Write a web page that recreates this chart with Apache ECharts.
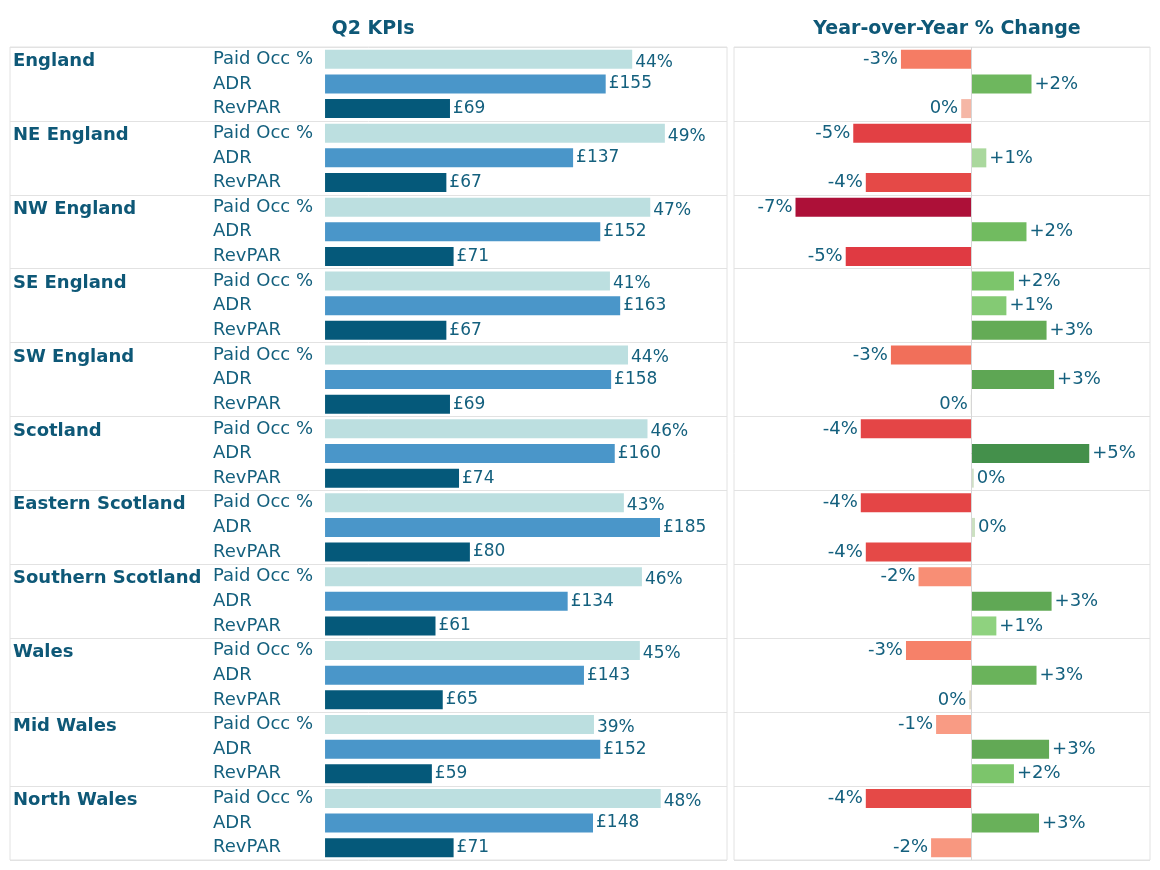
<!DOCTYPE html>
<html>
<head>
<meta charset="utf-8">
<script src="https://cdn.jsdelivr.net/npm/echarts@6/dist/echarts.min.js"></script>
<style>
html,body{margin:0;padding:0;background:#fff;}
#chart{width:1160px;height:870px;}
</style>
</head>
<body>
<div id="chart"></div>
<script>
// ---- data ----
const regions = ['England','NE England','NW England','SE England','SW England','Scotland','Eastern Scotland','Southern Scotland','Wales','Mid Wales','North Wales'];
const metrics = ['Paid Occ %','ADR','RevPAR'];
const occ    = [44.2, 48.9, 46.8, 41.0, 43.6, 46.4, 43.0, 45.6, 45.3, 38.7, 48.3];
const adr    = [155, 137, 152, 163, 158, 160, 185, 134, 143, 152, 148];
const revpar = [69, 67, 71, 67, 69, 74, 80, 61, 65, 59, 71];
const yoyOcc = [-2.8, -4.7, -7.0, 1.7, -3.2, -4.4, -4.4, -2.1, -2.6, -1.4, -4.2];
const yoyAdr = [2.4, 0.6, 2.2, 1.4, 3.3, 4.7, 0.15, 3.2, 2.6, 3.1, 2.7];
const yoyRev = [-0.4, -4.2, -5.0, 3.0, -0.02, 0.1, -4.2, 1.0, -0.08, 1.7, -1.6];

// ---- style ----
const FONT = "'DejaVu Sans', sans-serif";
const TXT = '#14607e';
const HEAD = '#0e5877';
const C_OCC = '#bcdfe0', C_ADR = '#4a96c9', C_REV = '#05597a';
const GRIDLINE = '#e2e2e2';
const colorStops = [[-7,'#ad1038'],[-5,'#e03a42'],[-4,'#e64d48'],[-3,'#f4775f'],[-2,'#f89077'],[-1,'#f9a28c'],[-0.3,'#f4bbaa'],[0,'#d8e2cf'],[0.3,'#bfddb3'],[1,'#8fd27f'],[2,'#74bf63'],[3,'#64ab56'],[5,'#3e8b49']];

function hex2rgb(h){return [1,3,5].map(i=>parseInt(h.substr(i,2),16));}
function yoyColor(v){
  if (v <= colorStops[0][0]) return colorStops[0][1];
  for (let i=1;i<colorStops.length;i++){
    if (v <= colorStops[i][0]){
      const [a,ca]=colorStops[i-1],[b,cb]=colorStops[i];
      const t=(v-a)/(b-a), A=hex2rgb(ca), B=hex2rgb(cb);
      return 'rgb('+A.map((x,k)=>Math.round(x+(B[k]-x)*t)).join(',')+')';
    }
  }
  return colorStops[colorStops.length-1][1];
}
function fmtYoy(v){const r=Math.round(v); if(r>0) return '+'+r+'%'; if(r===0) return '0%'; return '-'+Math.abs(r)+'%';}

// ---- rows ----
const rowKeys = [];
regions.forEach(r=>metrics.forEach(m=>rowKeys.push(r+'|'+m)));
const occData=[], adrData=[], revData=[], yoyData=[];
regions.forEach((r,i)=>{
  occData.push(occ[i], '-', '-');
  adrData.push('-', adr[i], '-');
  revData.push('-', '-', revpar[i]);
  [yoyOcc[i], yoyAdr[i], yoyRev[i]].forEach(v=>{
    yoyData.push({value:v, itemStyle:{color:yoyColor(v)}, label:{position: v<0?'left':'right'}});
  });
});

const splitEvery3 = {show:true, interval:(idx)=>idx%3===0, lineStyle:{color:GRIDLINE, width:1}};
const barLabel = {show:true, position:'right', distance:3, color:TXT, fontFamily:FONT, fontSize:17};

const chart = echarts.init(document.getElementById('chart'), null, {renderer:'canvas'});
chart.setOption({
  animation:false,
  backgroundColor:'#fff',
  textStyle:{fontFamily:FONT},
  title:[
    {text:'Q2 KPIs', left:368, top:15, textAlign:'center', textStyle:{fontFamily:FONT, fontWeight:'bold', fontSize:19, color:HEAD}},
    {text:'Year-over-Year % Change', left:942, top:15, textAlign:'center', textStyle:{fontFamily:FONT, fontWeight:'bold', fontSize:19, color:HEAD}}
  ],
  grid:[
    {left:10, top:47, width:717, height:813, show:true, borderColor:GRIDLINE, borderWidth:1, containLabel:false},
    {left:734, top:47, width:416, height:813, show:true, borderColor:GRIDLINE, borderWidth:1, containLabel:false}
  ],
  xAxis:[
    {type:'value', gridIndex:0, min:-45.32, max:57.84, show:false},
    {type:'value', gridIndex:0, min:-174, max:222, show:false},
    {type:'value', gridIndex:1, min:-9.45, max:7.12, show:false}
  ],
  yAxis:[
    {type:'category', gridIndex:0, data:rowKeys, inverse:true, position:'left',
     axisLine:{show:false}, axisTick:{show:false}, splitLine:splitEvery3,
     axisLabel:{inside:true, margin:203, align:'left', color:TXT, fontFamily:FONT, fontSize:18, interval:0,
       formatter:(v)=>v.split('|')[1]}},
    {type:'category', gridIndex:0, data:rowKeys, inverse:true, position:'left', offset:0,
     axisLine:{show:false}, axisTick:{show:false}, splitLine:{show:false},
     axisLabel:{inside:true, margin:3, align:'left', color:HEAD, fontFamily:FONT, fontSize:18, fontWeight:'bold', interval:0,
       rich:{r:{color:HEAD, fontFamily:FONT, fontSize:18, fontWeight:'bold', padding:[4,0,0,0]}},
       formatter:(v)=>{const p=v.split('|'); return p[1]===metrics[0]?('{r|'+p[0]+'}'):'';}}},
    {type:'category', gridIndex:1, data:rowKeys, inverse:true,
     axisLine:{show:false}, axisTick:{show:false}, axisLabel:{show:false}, splitLine:splitEvery3}
  ],
  series:[
    {name:'Paid Occ %', type:'bar', xAxisIndex:0, yAxisIndex:0, data:occData, barWidth:19, barGap:'-100%',
     itemStyle:{color:C_OCC}, label:Object.assign({}, barLabel, {offset:[0,3], formatter:(p)=>Math.round(p.value)+'%'})},
    {name:'ADR', type:'bar', xAxisIndex:1, yAxisIndex:0, data:adrData, barWidth:19, barGap:'-100%',
     itemStyle:{color:C_ADR}, label:Object.assign({}, barLabel, {formatter:(p)=>'£'+Math.round(p.value)})},
    {name:'RevPAR', type:'bar', xAxisIndex:1, yAxisIndex:0, data:revData, barWidth:19, barGap:'-100%',
     itemStyle:{color:C_REV}, label:Object.assign({}, barLabel, {formatter:(p)=>'£'+Math.round(p.value)})},
    {name:'YoY', type:'bar', xAxisIndex:2, yAxisIndex:2, data:yoyData, barWidth:19,
     label:Object.assign({}, barLabel, {fontSize:18, formatter:(p)=>fmtYoy(p.value)}),
     markLine:{silent:true, symbol:'none', label:{show:false}, lineStyle:{color:'#d6d6d6', type:'solid', width:1},
       data:[{xAxis:0}]}}
  ]
});
</script>
</body>
</html>
